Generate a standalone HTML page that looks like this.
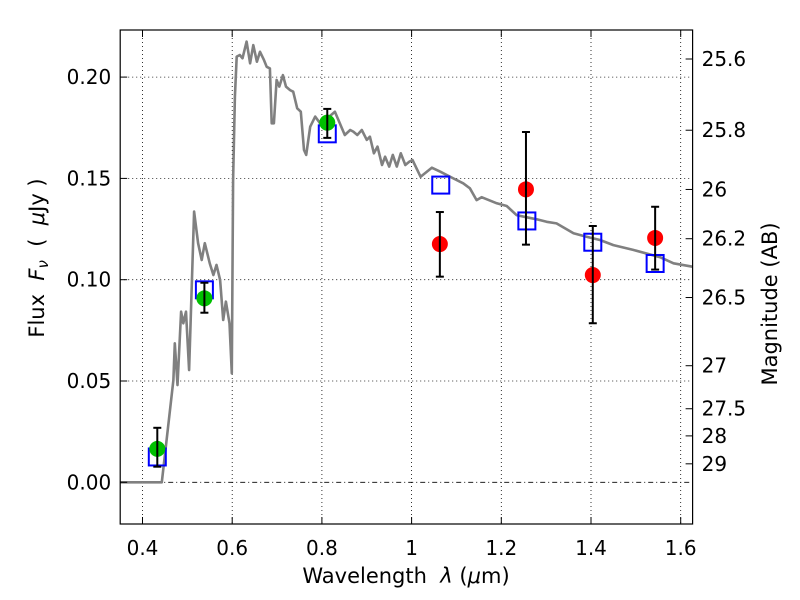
<!DOCTYPE html>
<html><head><meta charset="utf-8"><style>
body{margin:0;background:#fff;}
svg{display:block;font-family:"DejaVu Sans","Liberation Sans",sans-serif;}
text{white-space:pre;}
</style></head><body>
<svg id="chart" width="800" height="600" viewBox="0 0 800 600" xmlns="http://www.w3.org/2000/svg"></svg>
<script>
const specWave=[0.35,0.443,0.469,0.472,0.478,0.486,0.491,0.497,0.504,0.515,0.524,0.532,0.539,0.550,0.558,0.565,0.573,0.580,0.586,0.594,0.599,0.602,0.606,0.610,0.617,0.623,0.632,0.640,0.647,0.655,0.662,0.671,0.677,0.684,0.688,0.693,0.699,0.705,0.713,0.720,0.729,0.736,0.745,0.753,0.760,0.765,0.774,0.785,0.796,0.812,0.829,0.840,0.851,0.863,0.870,0.879,0.889,0.900,0.907,0.916,0.924,0.934,0.941,0.950,0.958,0.967,0.976,0.986,0.995,1.002,1.020,1.045,1.064,1.093,1.115,1.130,1.145,1.156,1.190,1.212,1.234,1.257,1.279,1.301,1.323,1.361,1.390,1.420,1.450,1.494,1.554,1.584,1.626];
const specFlux=[0,0,0.0505,0.0686,0.048,0.0842,0.0785,0.0842,0.0554,0.1336,0.118,0.1097,0.118,0.108,0.1023,0.1073,0.0999,0.0801,0.0892,0.0785,0.0538,0.1492,0.1903,0.2101,0.2109,0.2093,0.2175,0.2068,0.2158,0.2076,0.2125,0.2084,0.2051,0.2043,0.1772,0.1772,0.1986,0.1953,0.2010,0.1953,0.1936,0.1928,0.1846,0.1829,0.1640,0.1616,0.1755,0.1805,0.1772,0.1797,0.1829,0.1772,0.1714,0.1739,0.1731,0.1714,0.1739,0.1690,0.1706,0.1624,0.1657,0.1566,0.1607,0.1558,0.1616,0.1558,0.1624,0.1566,0.1583,0.1591,0.1508,0.1553,0.1533,0.1500,0.1476,0.1451,0.1393,0.1407,0.1377,0.1364,0.1319,0.1308,0.1298,0.1286,0.1278,0.1229,0.1212,0.1196,0.1171,0.1147,0.1111,0.1081,0.1064];
const greenWave=[0.433,0.538,0.812];
const greenFlux=[0.0165,0.0908,0.1775];
const greenErrHi=[0.0269,0.0985,0.1843];
const greenErrLo=[0.0077,0.0837,0.170];
const redWave=[1.063,1.255,1.404,1.543];
const redFlux=[0.1176,0.1446,0.1023,0.1206];
const redErrHi=[0.1334,0.1729,0.1265,0.136];
const redErrLo=[0.1015,0.1173,0.0785,0.105];
const modelWave=[0.433,0.538,0.812,1.065,1.257,1.404,1.543];
const modelFlux=[0.0125,0.095,0.172,0.1467,0.129,0.1185,0.108];
const xTicks=[0.4,0.6,0.8,1.0,1.2,1.4,1.6];
const xTickLabels=["0.4","0.6","0.8","1","1.2","1.4","1.6"];
const yTicks=[0,0.05,0.10,0.15,0.20];
const yTickLabels=["0.00","0.05","0.10","0.15","0.20"];
const magTicks=[25.6,25.8,26,26.2,26.5,27,27.5,28,29];
const magTickLabels=["25.6","25.8","26","26.2","26.5","27","27.5","28","29"];

const L=120.2,R=692.6,T=30,B=524;
const X=v=>142.5+(v-0.4)*448.5;
const Y=v=>482.3-v*2026;
const NS="http://www.w3.org/2000/svg";
const svg=document.getElementById('chart');
function mk(tag,attrs,parent){const e=document.createElementNS(NS,tag);for(const k in attrs)e.setAttribute(k,attrs[k]);(parent||svg).appendChild(e);return e;}

const grid=mk('g',{});


xTicks.forEach(t=>{mk('line',{x1:X(t),x2:X(t),y1:T,y2:B,stroke:'#000','stroke-width':0.8,'stroke-dasharray':'1,3'},grid);});
yTicks.forEach(t=>{mk('line',{x1:L,x2:R,y1:Y(t),y2:Y(t),stroke:'#000','stroke-width':0.8,'stroke-dasharray':t===0?'5,3,1,3':'1,3'},grid);});

const pts=specWave.map((w,i)=>X(w).toFixed(1)+','+Y(specFlux[i]).toFixed(1)).join(' ');
const spec=mk('polyline',{points:pts,fill:'none',stroke:'#808080','stroke-width':2.6,'stroke-linejoin':'round'});



modelWave.forEach((w,i)=>{
  const s=mk('rect',{x:X(w)-8.5,y:Y(modelFlux[i])-8.5,width:17,height:17,fill:'none',stroke:'#0000ff','stroke-width':2});
  
  
});
function obs(ws,fs,hi,lo,col,name){
  ws.forEach((w,i)=>{
    const g=mk('g',{});
    
    
    mk('circle',{cx:X(w),cy:Y(fs[i]),r:8,fill:col},g);
    mk('line',{x1:X(w),x2:X(w),y1:Y(hi[i]),y2:Y(lo[i]),stroke:'#000','stroke-width':2},g);
    mk('line',{x1:X(w)-4,x2:X(w)+4,y1:Y(hi[i]),y2:Y(hi[i]),stroke:'#000','stroke-width':2},g);
    mk('line',{x1:X(w)-4,x2:X(w)+4,y1:Y(lo[i]),y2:Y(lo[i]),stroke:'#000','stroke-width':2},g);
  });
}
obs(greenWave,greenFlux,greenErrHi,greenErrLo,'#00c000','hst-detection');
obs(redWave,redFlux,redErrHi,redErrLo,'#ff0000','nir-detection');

const frame=mk('rect',{x:L,y:T,width:R-L,height:B-T,fill:'none',stroke:'#000','stroke-width':1.2});



xTicks.forEach((t,i)=>{
  mk('line',{x1:X(t),x2:X(t),y1:B,y2:B-7,stroke:'#000'});
  mk('line',{x1:X(t),x2:X(t),y1:T,y2:T+7,stroke:'#000'});
  const tx=mk('text',{x:X(t),y:B+31,'font-size':20,'text-anchor':'middle'});
  tx.textContent=xTickLabels[i];
  
  
});
yTicks.forEach((t,i)=>{
  mk('line',{x1:L,x2:L+7,y1:Y(t),y2:Y(t),stroke:'#000'});
  const tx=mk('text',{x:L-9,y:Y(t)+7,'font-size':20,'text-anchor':'end'});
  tx.textContent=yTickLabels[i];
  
  
});
magTicks.forEach((m,i)=>{
  const f=Math.pow(10,(23.9-m)/2.5);
  mk('line',{x1:R,x2:R-7,y1:Y(f),y2:Y(f),stroke:'#000'});
  const tx=mk('text',{x:R+9,y:Y(f)+7,'font-size':20});
  tx.textContent=magTickLabels[i];
  
  
});
</script>
<svg style="position:absolute;left:0;top:0" width="800" height="600">
<text x="406" y="583" font-size="21" text-anchor="middle" font-family="DejaVu Sans, Liberation Sans, sans-serif">Wavelength  <tspan font-style="italic">λ</tspan> (<tspan font-style="italic">μ</tspan>m)</text>
<text transform="translate(44,258) rotate(-90)" font-size="21" text-anchor="middle" font-family="DejaVu Sans, Liberation Sans, sans-serif">Flux  <tspan font-style="italic">F</tspan><tspan font-style="italic" font-size="15" dy="4">ν</tspan><tspan dy="-4">  (  </tspan><tspan font-style="italic">μ</tspan>Jy )</text>
<text transform="translate(777,304) rotate(-90)" font-size="21" text-anchor="middle" font-family="DejaVu Sans, Liberation Sans, sans-serif">Magnitude (AB)</text>
</svg>
</body></html>
